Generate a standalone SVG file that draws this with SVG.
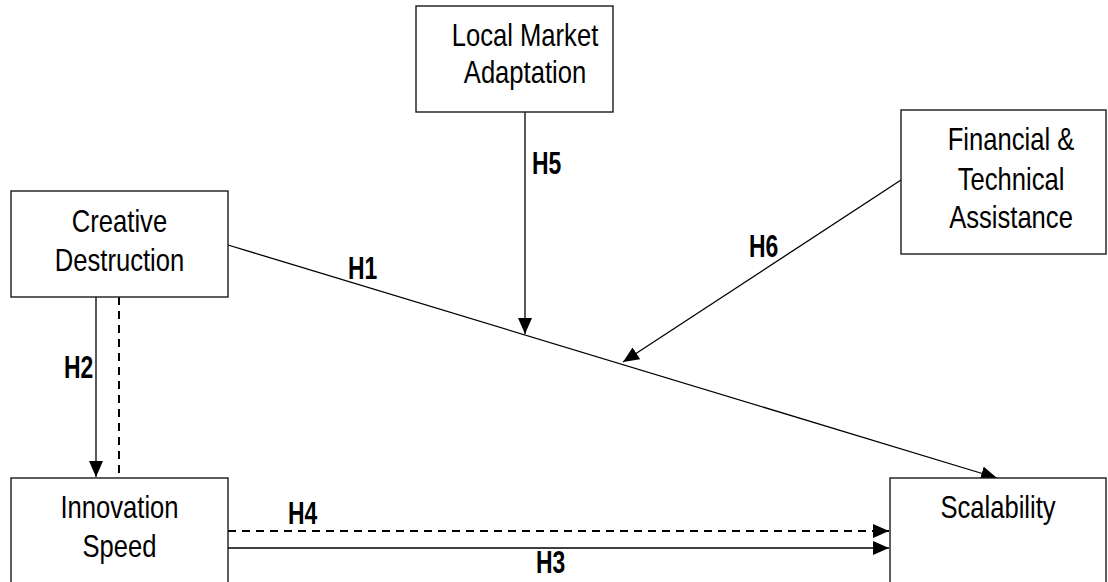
<svg xmlns="http://www.w3.org/2000/svg" width="1108" height="582" viewBox="0 0 1108 582">
<defs>
<style>
.box{fill:#fff;stroke:#1a1a1a;stroke-width:1.4}
.t{font-family:"Liberation Sans",Arial,sans-serif;font-size:32px;fill:#000;text-anchor:middle}
.lb{font-family:"Liberation Sans",Arial,sans-serif;font-size:31px;font-weight:bold;fill:#000}
.c{fill:none;stroke:#000;stroke-width:1.3}
.d{fill:none;stroke:#000;stroke-width:2;stroke-dasharray:8 6}
</style>
<marker id="ah" markerUnits="userSpaceOnUse" markerWidth="16" markerHeight="14" refX="16" refY="7" orient="auto">
<path d="M0,0 L16,7 L0,14 z" fill="#000"/>
</marker>
</defs>
<rect width="1108" height="582" fill="#fff"/>
<g id="connectors">
<line class="c" x1="228" y1="245" x2="997" y2="478" marker-end="url(#ah)"/>
<line class="c" x1="525" y1="112" x2="525" y2="334" marker-end="url(#ah)"/>
<line class="c" x1="901" y1="180" x2="623" y2="362" marker-end="url(#ah)"/>
<line class="c" x1="96" y1="297" x2="96" y2="477" marker-end="url(#ah)"/>
<line class="d" x1="119" y1="297" x2="119" y2="477"/>
<line class="d" x1="228" y1="531" x2="889" y2="531" marker-end="url(#ah)"/>
<line class="c" x1="228" y1="548" x2="889" y2="548" marker-end="url(#ah)"/>
<text class="lb" transform="translate(532,174) scale(0.74,1)">H5</text>
<text class="lb" transform="translate(749,257) scale(0.74,1)">H6</text>
<text class="lb" transform="translate(348,279) scale(0.74,1)">H1</text>
<text class="lb" transform="translate(64,378) scale(0.74,1)">H2</text>
<text class="lb" transform="translate(288,524) scale(0.74,1)">H4</text>
<text class="lb" transform="translate(536,573) scale(0.74,1)">H3</text>
</g>
<g id="creative">
<rect class="box" x="11" y="191" width="217" height="106"/>
<text class="t" transform="translate(119.5,232) scale(0.8,1)">Creative</text>
<text class="t" transform="translate(119.5,271) scale(0.8,1)">Destruction</text>
</g>
<g id="innovation">
<rect class="box" x="11" y="478" width="217" height="120"/>
<text class="t" transform="translate(119.5,518) scale(0.8,1)">Innovation</text>
<text class="t" transform="translate(119.5,557) scale(0.8,1)">Speed</text>
</g>
<g id="local">
<rect class="box" x="416" y="6" width="197" height="106"/>
<text class="t" transform="translate(525,46) scale(0.8,1)">Local Market</text>
<text class="t" transform="translate(525,83) scale(0.8,1)">Adaptation</text>
</g>
<g id="financial">
<rect class="box" x="901" y="110" width="205" height="144"/>
<text class="t" transform="translate(1011,150) scale(0.8,1)">Financial &amp;</text>
<text class="t" transform="translate(1011,190) scale(0.8,1)">Technical</text>
<text class="t" transform="translate(1011,228) scale(0.8,1)">Assistance</text>
</g>
<g id="scalability">
<rect class="box" x="890" y="478" width="216" height="120"/>
<text class="t" transform="translate(998,518) scale(0.8,1)">Scalability</text>
</g>
</svg>
